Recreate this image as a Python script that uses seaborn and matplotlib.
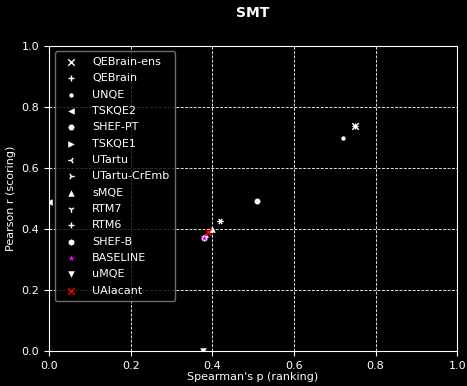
import numpy as np
import pandas as pd
import matplotlib
matplotlib.use("Agg")
import matplotlib.pyplot as plt
import seaborn as sns

# systems and their scores
systems = ["QEBrain-ens", "QEBrain", "UNQE", "TSKQE2", "SHEF-PT", "TSKQE1",
           "UTartu", "UTartu-CrEmb", "sMQE", "RTM7", "RTM6", "SHEF-B",
           "BASELINE", "uMQE", "UAlacant"]
spearman = [0.749, 0.749, 0.719, 0.0, 0.509, 0.0,
            0.419, 0.419, 0.400, 0.383, 0.383, 0.379,
            0.379, 0.378, 0.389]
pearson = [0.739, 0.739, 0.699, 0.488, 0.490, 0.488,
           0.426, 0.426, 0.399, 0.375, 0.375, 0.371,
           0.371, 0.0, 0.391]
markers = ["x", "+", ".", "<", "H", ">", "3", "4", "^", "1", "+", "h", "*", "v", "x"]
colors = ["white"] * 12 + ["magenta", "white", "red"]

df = pd.DataFrame({"system": systems, "spearman": spearman, "pearson": pearson})

plt.style.use("dark_background")
fig = plt.figure(figsize=(4.67, 3.86), dpi=100)
ax = fig.add_axes([0.105, 0.091, 0.874, 0.790])

for i, row in df.iterrows():
    line_art = markers[i] in "x+1234"
    sns.scatterplot(x=[row["spearman"]], y=[row["pearson"]], marker=markers[i],
                    color=colors[i], s=22 if markers[i] != "." else 40,
                    linewidth=1 if line_art else 0,
                    label=row["system"], ax=ax, zorder=3)

ax.set_xlim(0, 1)
ax.set_ylim(0, 1)
ax.set_xticks(np.arange(0, 1.01, 0.2))
ax.set_yticks(np.arange(0, 1.01, 0.2))
ax.grid(True, linestyle=(0, (3, 1.5)), color="#dddddd", linewidth=0.7)
ax.tick_params(labelsize=8)
ax.set_xlabel("Spearman's p (ranking)", fontsize=8, labelpad=1)
ax.set_ylabel("Pearson r (scoring)", fontsize=8)
ax.set_title("SMT", fontsize=10, fontweight="bold", pad=21)
leg = ax.legend(loc="upper left", fontsize=8, labelspacing=0.57, borderpad=0.5,
                handletextpad=0.9, framealpha=0.8, edgecolor="#888888",
                markerscale=1.0)

fig.savefig("out.png", dpi=100)
